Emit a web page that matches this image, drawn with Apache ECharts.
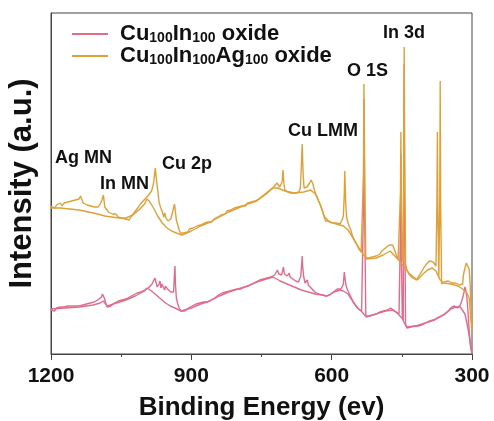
<!DOCTYPE html>
<html>
<head>
<meta charset="utf-8">
<script src="https://cdn.jsdelivr.net/npm/echarts@6/dist/echarts.min.js"></script>
<style>
  html, body { margin: 0; padding: 0; background: #fff; }
  #chart { width: 494px; height: 421px; }
</style>
</head>
<body>
<div id="chart"></div>
<script>
// XPS survey spectra: [binding energy (eV), intensity (a.u.)]
const seriesNames = ['Cu100In100 oxide', 'Cu100In100Ag100 oxide'];
const xTicks = [1200, 900, 600, 300];

// Cu100In100 oxide, measured trace
const cuInRaw = [[1200,44],[1196,46],[1192,43],[1188,46],[1184,44],[1180,47],[1176,45],[1172,47],[1168,45],[1164,48],[1160,46],[1156,48],[1152,46],[1148,48],[1144,47],[1140,48],[1136,47],[1132,49],[1128,48],[1124,50],[1120,49],[1116,51],[1112,50],[1108,52],[1104,52],[1100,54],[1096,54],[1092,57],[1090,60],[1088,61],[1086,56],[1083,51],[1080,47],[1076,49],[1072,48],[1068,50],[1064,51],[1060,51],[1056,53],[1052,52],[1048,54],[1044,53],[1040,55],[1036,55],[1032,57],[1028,57],[1024,59],[1020,59],[1016,61],[1012,61],[1008,62],[1004,63],[1000,64],[996,66],[992,66],[988,68],[984,70],[980,72],[978,76],[977,77],[975,71],[973,67],[971,66],[969,70],[967,73],[965,66],[963,70],[961,72],[959,68],[957,64],[955,68],[953,70],[951,65],[949,63],[947,66],[944,62],[941,61],[938,62],[936,80],[935,88],[934,70],[932,56],[929,50],[926,46],[922,43],[918,44],[914,43],[910,45],[906,46],[902,46],[898,48],[894,48],[890,50],[886,49],[882,51],[878,51],[874,52],[870,51],[866,52],[862,53],[858,54],[854,56],[850,56],[846,57],[842,59],[838,59],[834,61],[830,62],[826,62],[822,63],[818,63],[814,65],[810,64],[806,66],[802,65],[798,66],[794,65],[790,67],[786,67],[782,69],[778,68],[774,70],[770,70],[766,71],[762,72],[758,72],[754,74],[750,74],[746,75],[742,76],[738,76],[734,77],[730,77],[726,78],[722,79],[719,81],[716,84],[713,80],[710,78],[707,79],[705,83],[703,87],[701,80],[698,78],[695,78],[692,80],[691,81],[689,77],[686,76],[683,75],[680,74],[677,73],[674,73],[671,72],[668,72],[666,78],[664,90],[663,98],[662,88],[660,78],[657,71],[655,70],[653,73],[652,74],[650,69],[647,67],[644,66],[640,64],[636,62],[632,61],[628,60],[624,60],[620,59],[616,59],[612,58],[608,58],[604,59],[600,61],[596,62],[592,64],[588,65],[584,64],[580,65],[577,67],[575,70],[573,82],[571,74],[569,68],[566,64],[563,61],[560,58],[557,55],[554,52],[551,50],[548,48],[545,46],[542,45],[539,44],[536,43],[534,42],[532,150],[531,255],[529,120],[527,38],[525,37],[521,38],[517,38],[513,39],[509,40],[505,40],[501,41],[497,42],[493,42],[489,43],[485,44],[481,44],[477,45],[474,46],[471,45],[468,44],[465,43],[462,42],[459,41],[456,40],[453,120],[452,200],[451,100],[449,38],[447,34],[446,180],[445,290],[444,150],[442,30],[439,26],[435,27],[431,27],[427,27],[423,28],[419,28],[415,28],[411,28],[407,29],[403,30],[399,31],[395,32],[391,33],[387,34],[383,34],[379,35],[375,36],[371,37],[367,38],[363,39],[359,40],[355,42],[351,43],[347,45],[343,47],[340,49],[337,48],[334,47],[331,46],[328,46],[325,49],[322,53],[319,58],[317,62],[315,67],[313,63],[311,57],[309,45],[307,30],[305,18],[303,8],[300,0]];

// Cu100In100 oxide, background envelope
const cuInBg = [[1200,45],[1170,46],[1140,47],[1110,49],[1095,51],[1088,53],[1080,48],[1060,51],[1040,54],[1020,58],[1000,63],[995,66],[985,63],[975,59],[965,55],[955,51],[945,48],[935,46],[922,43],[900,46],[880,50],[860,53],[840,58],[820,62],[800,65],[780,68],[760,72],[740,75],[725,77],[710,73],[695,70],[680,67],[665,64],[650,62],[635,60],[620,59],[610,58],[595,62],[582,64],[575,63],[565,60],[555,53],[545,46],[535,42],[526,37],[505,40],[485,43],[470,44],[460,41],[450,36],[440,27],[420,28],[400,31],[380,34],[360,39],[345,45],[335,47],[325,47],[315,40],[308,24],[303,8],[300,0]];

// Cu100In100Ag100 oxide, measured trace
const cuInAgRaw = [[1200,148],[1196,150],[1192,146],[1188,149],[1184,147],[1180,151],[1176,148],[1172,151],[1168,149],[1164,152],[1160,150],[1156,153],[1152,151],[1148,154],[1144,152],[1140,155],[1137,158],[1134,160],[1131,151],[1127,152],[1123,149],[1119,151],[1115,148],[1111,150],[1107,147],[1103,149],[1099,147],[1095,150],[1091,154],[1088,159],[1085,147],[1081,145],[1077,142],[1073,143],[1069,140],[1065,139],[1061,140],[1057,137],[1053,138],[1049,136],[1045,137],[1041,135],[1037,136],[1033,134],[1029,137],[1025,139],[1021,142],[1017,144],[1013,147],[1009,150],[1005,152],[1001,154],[997,155],[993,158],[989,160],[985,163],[981,170],[979,178],[977,186],[975,176],[972,164],[969,152],[966,147],[962,142],[959,137],[957,141],[954,136],[950,133],[947,131],[944,135],[941,140],[938,146],[936,150],[934,152],[932,134],[929,129],[926,124],[923,121],[920,119],[916,121],[912,123],[908,122],[904,125],[900,124],[896,126],[892,125],[888,128],[884,127],[880,129],[876,128],[872,131],[868,130],[864,132],[860,133],[856,132],[852,135],[848,134],[844,137],[840,137],[836,139],[832,141],[828,140],[824,143],[820,142],[816,144],[812,143],[808,146],[804,145],[800,147],[796,146],[792,148],[788,149],[784,148],[780,151],[776,150],[772,152],[768,151],[764,153],[760,152],[756,155],[752,156],[748,158],[744,159],[740,161],[736,162],[732,164],[728,166],[724,167],[720,169],[717,171],[714,169],[711,167],[708,166],[706,172],[704,184],[702,170],[700,164],[697,163],[694,162],[691,163],[688,161],[685,162],[682,161],[679,162],[676,161],[673,163],[670,162],[667,166],[665,185],[663,210],[661,180],[659,166],[656,164],[653,167],[650,168],[647,171],[644,174],[642,176],[640,170],[637,164],[634,160],[631,157],[628,153],[625,150],[622,146],[619,142],[616,137],[613,133],[610,131],[606,133],[602,132],[598,131],[594,133],[590,131],[586,132],[582,130],[578,134],[575,138],[573,160],[572,183],[570,150],[568,137],[565,131],[562,127],[559,124],[556,119],[553,115],[550,112],[546,109],[543,106],[540,104],[537,102],[534,100],[532,180],[531,270],[529,160],[527,96],[525,94],[521,96],[517,95],[513,97],[509,96],[505,98],[501,99],[497,100],[493,103],[489,104],[485,106],[481,107],[477,109],[473,110],[470,109],[467,106],[464,102],[461,98],[458,95],[455,94],[453,160],[452,222],[451,150],[449,96],[447,92],[446,200],[445,307],[444,200],[442,90],[439,84],[435,80],[431,78],[427,76],[423,75],[419,74],[415,76],[411,80],[407,83],[403,86],[399,89],[395,91],[391,93],[387,93],[383,92],[380,91],[377,88],[375,150],[374,222],[373,150],[371,76],[369,150],[368,273],[367,150],[365,70],[362,71],[359,72],[355,71],[351,73],[347,72],[343,71],[339,72],[335,71],[331,70],[327,69],[323,68],[320,70],[318,80],[315,86],[312,91],[309,92],[306,85],[304,70],[302,45],[300,28]];

// Cu100In100Ag100 oxide, background envelope
const cuInAgBg = [[1200,146],[1180,146],[1160,145],[1140,144],[1120,142],[1100,140],[1085,138],[1070,137],[1055,136],[1040,136],[1025,139],[1010,145],[1000,150],[995,155],[990,153],[982,147],[972,138],[962,131],[952,126],[942,123],[932,121],[920,119],[900,123],[880,128],[860,132],[840,137],[820,142],[800,146],[780,150],[760,153],[740,160],[725,166],[715,166],[700,163],[680,161],[660,162],[645,164],[635,160],[625,150],[615,137],[605,132],[590,130],[575,128],[565,124],[550,113],[540,105],[530,98],[526,95],[505,96],[490,99],[475,103],[465,98],[455,93],[445,87],[435,81],[425,77],[417,74],[405,80],[395,84],[385,86],[377,83],[368,74],[360,71],[345,70],[330,68],[320,65],[312,62],[306,56],[302,32],[300,22]];

// Peak assignments written over the spectra
const peakLabels = [
  { text: 'Ag MN', x: 55, y: 158 },
  { text: 'In MN', x: 100, y: 184 },
  { text: 'Cu 2p', x: 162, y: 164 },
  { text: 'Cu LMM', x: 288, y: 131 },
  { text: 'O 1S', x: 347, y: 71 },
  { text: 'In 3d', x: 383, y: 33 }
];

const pink = '#E06C8C';
const gold = '#E0A038';
const FONT = '"Liberation Sans", Arial, sans-serif';

const chart = echarts.init(document.getElementById('chart'), null, { renderer: 'canvas' });

function lineSeries(name, data, color) {
  return {
    name: name,
    type: 'line',
    data: data,
    symbol: 'none',
    smooth: false,
    animation: false,
    lineStyle: { color: color, width: 1.4 },
    itemStyle: { color: color }
  };
}

chart.setOption({
  backgroundColor: '#fff',
  animation: false,
  grid: {
    left: 51, right: 22, top: 13, bottom: 67,
    outerBoundsMode: 'none',
    containLabel: false,
    show: true, borderColor: '#444', borderWidth: 1
  },
  legend: {
    orient: 'vertical',
    left: 67,
    top: 18,
    itemGap: 0,
    itemWidth: 36,
    itemHeight: 2,
    icon: 'rect',
    data: seriesNames,
    formatter: function (name) {
      return name === seriesNames[0]
        ? '{g|}{b|Cu}{s|100}{b|In}{s|100}{b| oxide}'
        : '{g|}{b|Cu}{s|100}{b|In}{s|100}{b|Ag}{s|100}{b| oxide}';
    },
    textStyle: {
      rich: {
        g: { width: 7 },
        b: { fontFamily: FONT, fontWeight: 'bold', fontSize: 22, lineHeight: 22, color: '#111' },
        s: { fontFamily: FONT, fontWeight: 'bold', fontSize: 14, lineHeight: 6, verticalAlign: 'bottom', color: '#111' }
      }
    }
  },
  xAxis: {
    type: 'value',
    min: 300,
    max: 1200,
    interval: 300,
    inverse: true,
    name: 'Binding Energy (ev)',
    nameLocation: 'middle',
    nameGap: 41,
    nameTextStyle: { fontFamily: FONT, fontWeight: 'bold', fontSize: 26, color: '#111' },
    axisLine: { show: true, lineStyle: { color: '#444', width: 1 } },
    axisTick: { show: true, length: 6, lineStyle: { color: '#444' } },
    minorTick: { show: true, splitNumber: 2, length: 3, lineStyle: { color: '#444' } },
    splitLine: { show: false },
    axisLabel: {
      fontFamily: FONT, fontWeight: 'bold', fontSize: 21, color: '#111', margin: 12,
      formatter: function (v) { return xTicks.indexOf(v) >= 0 ? String(v) : ''; }
    }
  },
  yAxis: {
    type: 'value',
    min: 0,
    max: 341,
    name: 'Intensity (a.u.)',
    nameLocation: 'middle',
    nameGap: 13,
    nameTextStyle: { fontFamily: FONT, fontWeight: 'bold', fontSize: 31, color: '#111' },
    axisLine: { show: true, lineStyle: { color: '#444', width: 1 } },
    axisTick: { show: false },
    axisLabel: { show: false },
    splitLine: { show: false }
  },
  series: [
    lineSeries(seriesNames[0], cuInRaw, pink),
    lineSeries(seriesNames[0], cuInBg, pink),
    lineSeries(seriesNames[1], cuInAgRaw, gold),
    lineSeries(seriesNames[1], cuInAgBg, gold)
  ],
  graphic: peakLabels.map(function (p) {
    return {
      type: 'text',
      x: p.x,
      y: p.y,
      z: 100,
      style: {
        text: p.text,
        font: 'bold 18px ' + FONT,
        fill: '#111',
        align: 'left',
        verticalAlign: 'middle'
      }
    };
  })
});
</script>
</body>
</html>
